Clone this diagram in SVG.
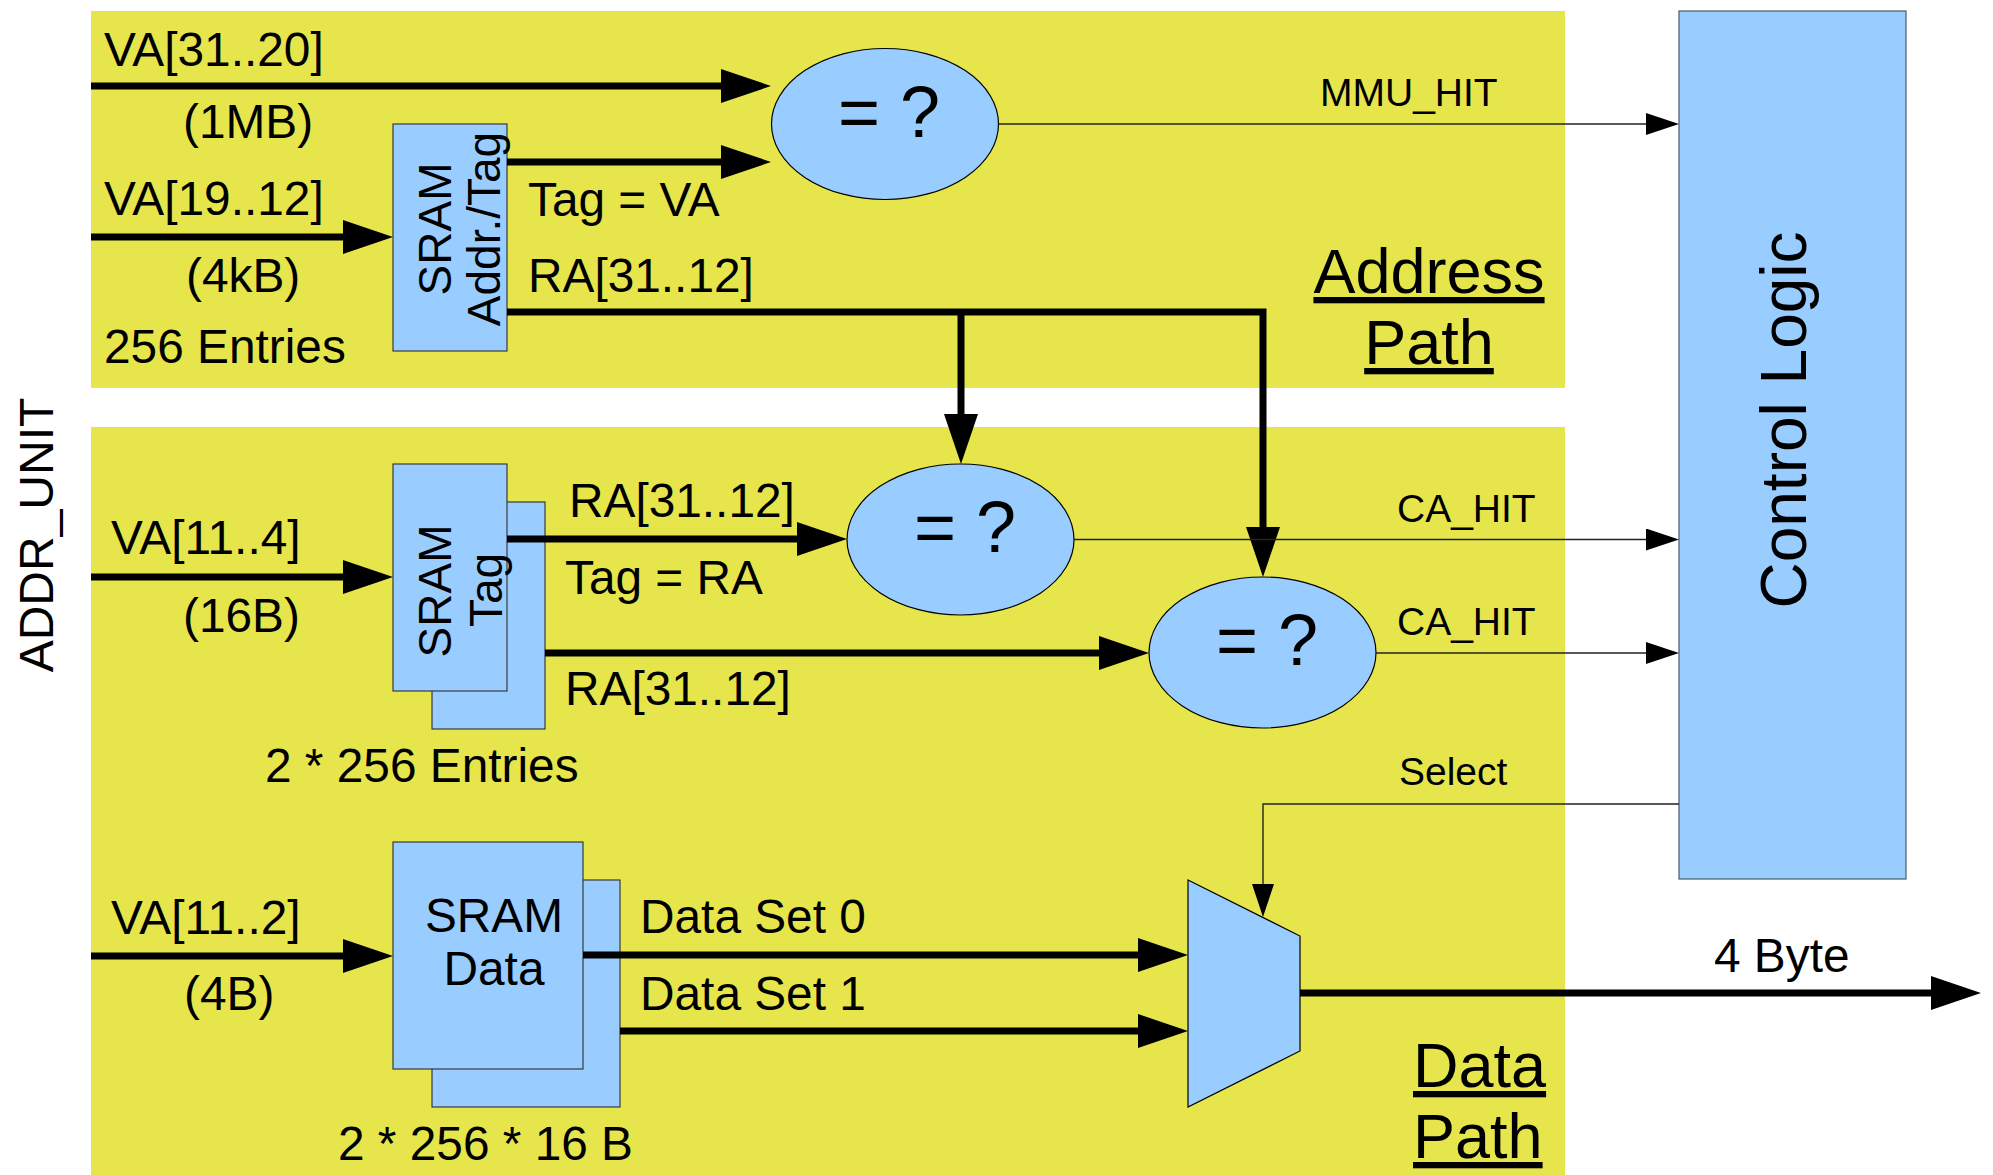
<svg xmlns="http://www.w3.org/2000/svg" width="1993" height="1175" viewBox="0 0 1993 1175">
  <style>
    text { font-family: "Liberation Sans", Arial, sans-serif; fill: #000; }
    .panel { fill: #e6e64c; stroke: none; }
    .box { fill: #99ccff; stroke: #3a3a3a; stroke-width: 1.2; }
    .cmp { fill: #99ccff; stroke: #000; stroke-width: 1.2; }
    .thick { fill: none; stroke: #000; stroke-width: 7; stroke-linejoin: miter; }
    .thin { fill: none; stroke: #222; stroke-width: 1.4; }
    .t47 { font-size: 47.8px; }
    .t46 { font-size: 46px; }
    .t39 { font-size: 39px; }
    .t63 { font-size: 63px; text-decoration: underline; }
    .t72 { font-size: 72px; }
  </style>
  <defs>
    <marker id="big" markerUnits="userSpaceOnUse" markerWidth="50" markerHeight="34" viewBox="0 0 50 34" refX="0" refY="17" orient="auto">
      <polygon points="0,0 50,17 0,34" fill="#000"/>
    </marker>
    <marker id="small" markerUnits="userSpaceOnUse" markerWidth="33" markerHeight="22" viewBox="0 0 33 22" refX="0" refY="11" orient="auto">
      <polygon points="0,0 33,11 0,22" fill="#000"/>
    </marker>
  </defs>

  <rect width="1993" height="1175" fill="#fff"/>

  <g id="address-panel">
    <rect class="panel" x="91" y="11" width="1474" height="377"/>
    <text class="t63" x="1429" y="293" text-anchor="middle">Address</text>
    <text class="t63" x="1429" y="364" text-anchor="middle">Path</text>
  </g>
  <g id="data-panel">
    <rect class="panel" x="91" y="427" width="1474" height="748"/>
    <text class="t63" x="1413" y="1087">Data</text>
    <text class="t63" x="1413" y="1158">Path</text>
  </g>

  <g id="addr-unit-label">
    <text transform="translate(53,535) rotate(-90)" text-anchor="middle" style="font-size:48px">ADDR_UNIT</text>
  </g>

  <g id="control-logic">
    <rect class="box" x="1679" y="11" width="227" height="868" style="stroke:#4a5a6a"/>
    <text transform="translate(1806,420) rotate(-90)" text-anchor="middle" style="font-size:64px">Control Logic</text>
  </g>

  <g id="sram-addr-tag">
    <rect class="box" x="393" y="124" width="114" height="227"/>
    <text class="t46" transform="translate(451,229) rotate(-90)" text-anchor="middle">SRAM</text>
    <text class="t46" transform="translate(500,229) rotate(-90)" text-anchor="middle">Addr./Tag</text>
  </g>

  <g id="sram-tag">
    <rect class="box" x="432" y="502" width="113" height="227"/>
    <rect class="box" x="393" y="464" width="114" height="227"/>
    <text class="t46" transform="translate(451,591) rotate(-90)" text-anchor="middle">SRAM</text>
    <text class="t46" transform="translate(502,590) rotate(-90)" text-anchor="middle">Tag</text>
  </g>

  <g id="sram-data">
    <rect class="box" x="432" y="880" width="188" height="227"/>
    <rect class="box" x="393" y="842" width="190" height="227"/>
    <text class="t47" x="494" y="932" text-anchor="middle">SRAM</text>
    <text class="t47" x="494" y="985" text-anchor="middle">Data</text>
  </g>

  <g id="cmp-mmu">
    <ellipse class="cmp" cx="885" cy="124" rx="113.5" ry="75.5"/>
    <text class="t72" x="889" y="137" text-anchor="middle">= ?</text>
  </g>
  <g id="cmp-ca0">
    <ellipse class="cmp" cx="960.5" cy="539.5" rx="113.5" ry="75.5"/>
    <text class="t72" x="965" y="552" text-anchor="middle">= ?</text>
  </g>
  <g id="cmp-ca1">
    <ellipse class="cmp" cx="1262.5" cy="652.5" rx="113.5" ry="75.5"/>
    <text class="t72" x="1267" y="665" text-anchor="middle">= ?</text>
  </g>

  <g id="mux">
    <polygon class="cmp" points="1188,880 1300,936 1300,1051 1188,1107"/>
  </g>

  <g id="connectors">
    <path class="thick" d="M91,86 H721" marker-end="url(#big)"/>
    <path class="thick" d="M91,237 H343" marker-end="url(#big)"/>
    <path class="thick" d="M507,162 H721" marker-end="url(#big)"/>
    <path class="thick" d="M507,312 H1263 V527" marker-end="url(#big)"/>
    <path class="thick" d="M961,312 V414" marker-end="url(#big)"/>
    <path class="thin" d="M998.5,124 H1646" marker-end="url(#small)"/>

    <path class="thick" d="M91,577 H343" marker-end="url(#big)"/>
    <path class="thick" d="M507,539 H797" marker-end="url(#big)"/>
    <path class="thick" d="M545,653 H1099" marker-end="url(#big)"/>
    <path class="thin" d="M1074,539.5 H1646" marker-end="url(#small)"/>
    <path class="thin" d="M1376,653 H1646" marker-end="url(#small)"/>
    <path class="thin" d="M1679,804 H1263 V884" marker-end="url(#small)"/>

    <path class="thick" d="M91,956 H343" marker-end="url(#big)"/>
    <path class="thick" d="M583,955 H1138" marker-end="url(#big)"/>
    <path class="thick" d="M620,1031 H1138" marker-end="url(#big)"/>
    <path class="thick" d="M1300,993 H1931" marker-end="url(#big)"/>
  </g>

  <g id="labels">
    <text class="t47" x="104" y="66">VA[31..20]</text>
    <text class="t47" x="183" y="138">(1MB)</text>
    <text class="t47" x="104" y="215">VA[19..12]</text>
    <text class="t47" x="186" y="292">(4kB)</text>
    <text class="t47" x="104" y="363">256 Entries</text>
    <text class="t47" x="528" y="216">Tag = VA</text>
    <text class="t47" x="528" y="292">RA[31..12]</text>
    <text class="t39" x="1320" y="106">MMU_HIT</text>

    <text class="t47" x="111" y="554">VA[11..4]</text>
    <text class="t47" x="183" y="632">(16B)</text>
    <text class="t47" x="265" y="782">2 * 256 Entries</text>
    <text class="t47" x="569" y="517">RA[31..12]</text>
    <text class="t47" x="565" y="594">Tag = RA</text>
    <text class="t47" x="565" y="705">RA[31..12]</text>
    <text class="t39" x="1397" y="522">CA_HIT</text>
    <text class="t39" x="1397" y="635">CA_HIT</text>
    <text class="t39" x="1399" y="785">Select</text>

    <text class="t47" x="111" y="934">VA[11..2]</text>
    <text class="t47" x="184" y="1010">(4B)</text>
    <text class="t47" x="338" y="1160">2 * 256 * 16 B</text>
    <text class="t47" x="640" y="933">Data Set 0</text>
    <text class="t47" x="640" y="1010">Data Set 1</text>
    <text class="t47" x="1714" y="972">4 Byte</text>
  </g>
</svg>
